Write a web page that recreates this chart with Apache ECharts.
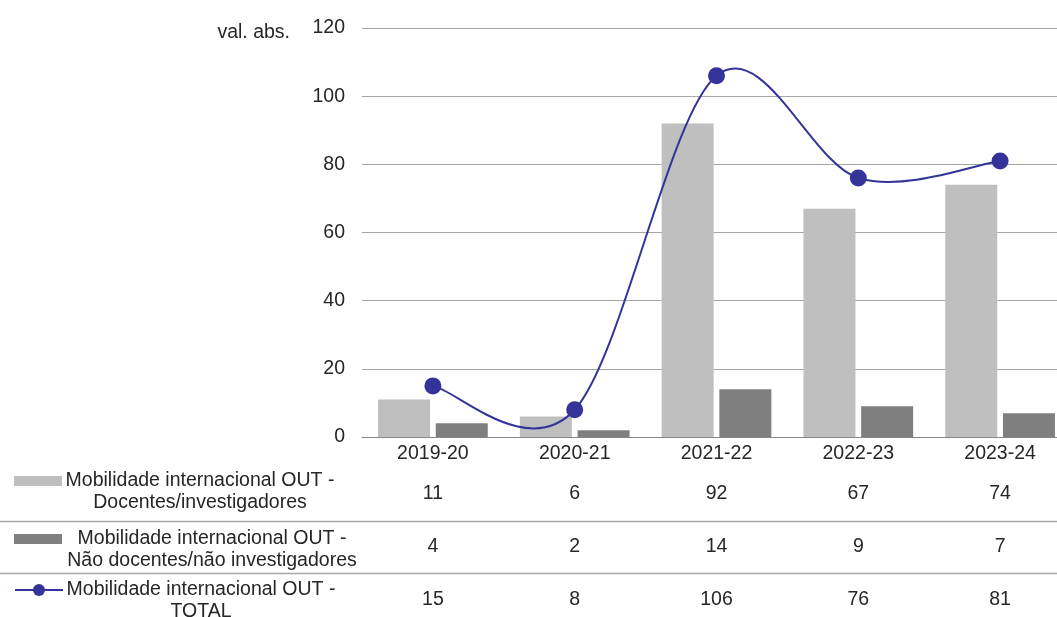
<!DOCTYPE html>
<html>
<head>
<meta charset="utf-8">
<script src="https://cdn.jsdelivr.net/npm/echarts@6/dist/echarts.min.js"></script>
<style>
  html, body { margin: 0; padding: 0; background: #fff; }
  #chart { width: 1057px; height: 617px; }
</style>
</head>
<body>
<div id="chart"></div>
<script>
// categorias (anos letivos)
const categories = ['2019-20', '2020-21', '2021-22', '2022-23', '2023-24']

// séries
const docentes = [11, 6, 92, 67, 74]
const naoDocentes = [4, 2, 14, 9, 7]
const total = [15, 8, 106, 76, 81]

// nomes das séries (duas linhas, como na legenda original)
const seriesNames = [
  ['Mobilidade internacional OUT -', 'Docentes/investigadores'],
  ['Mobilidade internacional OUT -', 'Não docentes/não investigadores'],
  ['Mobilidade internacional OUT -', 'TOTAL']
]
const yTicks = { min: 0, max: 120, interval: 20 }

const font = "'Liberation Sans', Arial, sans-serif"
const fs = 19.5
const txt = '#262626'
const colLight = '#bfbfbf'
const colDark = '#7f7f7f'
const colLine = '#333399'

const names = seriesNames.map(n => n.join(' '))
const tableRows = [docentes, naoDocentes, total]
const rowY = [494, 547, 600]
const legendTop = [449, 507, 558]
const legendW = [266, 290, 266]
const legendIcons = ['rect', 'rect', null]

const chart = echarts.init(document.getElementById('chart'))

// o gráfico original está cortado à direita: a área de desenho passa da margem
const gridBox = { left: 362, width: 709, outerBoundsMode: 'none', containLabel: false }

// grelha principal + uma grelha "invisível" por linha da tabela de dados
const grids = [{ ...gridBox, top: 28, height: 409 }]
const xAxes = [{
  type: 'category',
  data: categories,
  gridIndex: 0,
  axisLine: { lineStyle: { color: '#868686', width: 1 } },
  axisTick: { show: false },
  axisLabel: { color: txt, fontSize: fs, fontFamily: font, margin: 7, interval: 0 }
}]
const yAxes = [{
  type: 'value',
  gridIndex: 0,
  min: yTicks.min,
  max: yTicks.max,
  interval: yTicks.interval,
  name: 'val. abs.',
  nameLocation: 'end',
  nameGap: -5,
  nameTextStyle: { color: txt, fontSize: fs, fontFamily: font, align: 'right', verticalAlign: 'middle', padding: [0, 72, 0, 0] },
  axisLine: { show: false },
  axisTick: { show: false },
  axisLabel: { color: txt, fontSize: fs, fontFamily: font, margin: 17 },
  splitLine: { lineStyle: { color: '#a6a6a6', width: 1 } }
}]

tableRows.forEach((row, i) => {
  grids.push({ ...gridBox, top: rowY[i] - 1, height: 1 })
  xAxes.push({
    type: 'category',
    data: categories,
    gridIndex: i + 1,
    position: 'bottom',
    axisLine: { show: false },
    axisTick: { show: false },
    axisLabel: {
      interval: 0, margin: 0, verticalAlign: 'middle',
      color: txt, fontSize: fs, fontFamily: font,
      formatter: (v, idx) => String(row[idx])
    }
  })
  yAxes.push({ type: 'value', gridIndex: i + 1, show: false })
})

const legends = seriesNames.map((n, i) => {
  const lg = {
    data: [names[i]],
    left: 14,
    top: legendTop[i],
    padding: 0,
    itemWidth: 48,
    itemHeight: i === 2 ? 15 : 10,
    itemGap: 0,
    textStyle: {
      color: txt, fontSize: fs, fontFamily: font,
      rich: { a: { width: legendW[i], align: 'center', lineHeight: 22, fontSize: fs, fontFamily: font, color: txt } }
    },
    formatter: () => '{a| }\n{a|' + n[0] + '}\n{a|' + n[1] + '}'
  }
  if (legendIcons[i]) lg.icon = legendIcons[i]
  else lg.lineStyle = { color: colLine, width: 2, opacity: 1 }
  return lg
})

// curva suavizada ao estilo Excel (Catmull-Rom -> Bézier), segmento a segmento
const renderSmooth = (params, api) => {
  const i = params.dataIndex
  if (i >= total.length - 1) return null
  const p = k => api.coord([Math.max(0, Math.min(total.length - 1, k)), total[Math.max(0, Math.min(total.length - 1, k))]])
  const p0 = p(i - 1), p1 = p(i), p2 = p(i + 1), p3 = p(i + 2)
  return {
    type: 'bezierCurve',
    shape: {
      x1: p1[0], y1: p1[1],
      cpx1: p1[0] + (p2[0] - p0[0]) / 6, cpy1: p1[1] + (p2[1] - p0[1]) / 6,
      cpx2: p2[0] - (p3[0] - p1[0]) / 6, cpy2: p2[1] - (p3[1] - p1[1]) / 6,
      x2: p2[0], y2: p2[1]
    },
    style: { stroke: colLine, lineWidth: 2, fill: null }
  }
}

const option = {
  backgroundColor: '#fff',
  animation: false,
  textStyle: { fontFamily: font },
  grid: grids,
  xAxis: xAxes,
  yAxis: yAxes,
  legend: legends,
  graphic: [
    { type: 'line', shape: { x1: 0, y1: 521.5, x2: 1057, y2: 521.5 }, style: { stroke: '#a6a6a6', lineWidth: 1.5 } },
    { type: 'line', shape: { x1: 0, y1: 573.5, x2: 1057, y2: 573.5 }, style: { stroke: '#a6a6a6', lineWidth: 1.5 } }
  ],
  series: [
    {
      name: names[0],
      type: 'bar',
      data: docentes,
      barWidth: 52,
      barGap: '11%',
      itemStyle: { color: colLight }
    },
    {
      name: names[1],
      type: 'bar',
      data: naoDocentes,
      barWidth: 52,
      barGap: '11%',
      itemStyle: { color: colDark }
    },
    {
      name: 'curva',
      type: 'custom',
      coordinateSystem: 'cartesian2d',
      xAxisIndex: 0,
      yAxisIndex: 0,
      data: total.map((v, i) => [i, v]),
      renderItem: renderSmooth,
      z: 4
    },
    {
      name: names[2],
      type: 'line',
      data: total,
      symbol: 'circle',
      symbolSize: 17,
      itemStyle: { color: colLine },
      lineStyle: { color: colLine, width: 2, opacity: 0 },
      z: 5
    }
  ]
}

chart.setOption(option)
</script>
</body>
</html>
